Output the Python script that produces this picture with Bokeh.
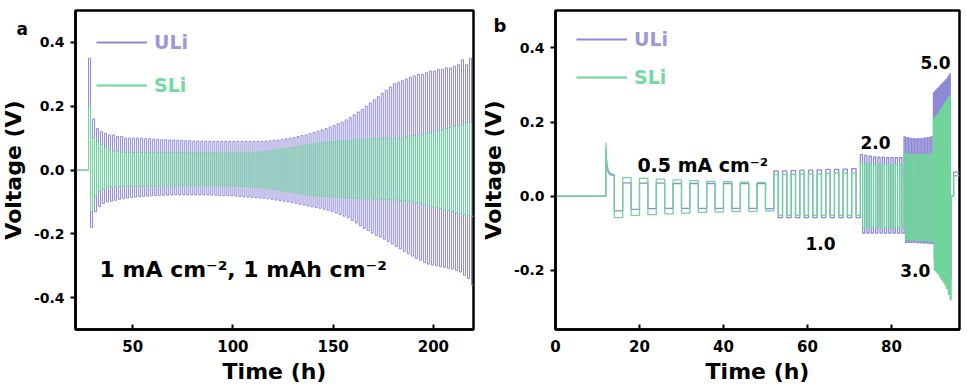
import numpy as np
from bokeh.plotting import figure
from bokeh.layouts import row
from bokeh.models import (Range1d, FixedTicker, PrintfTickFormatter, Label,
                          Legend, LegendItem)
from bokeh.embed import file_html
from bokeh.resources import INLINE

PURPLE = "#8E89D6"
GREEN = "#6FD59B"
PURPLE_TXT = "#9C98DA"
GREEN_TXT = "#76D9A0"
FONT = "DejaVu Sans"

# ---------------- Panel a data: 1 mA cm-2, 1 mAh cm-2 (2 h per cycle) ----------------
a_rest_t = [21.5, 28.0]
a_rest_v = [0.0, 0.0]
a_cycle_start = 28.0
a_half_h = 1.0
a_uli_hi = [0.35, 0.16, 0.13, 0.12, 0.115, 0.11, 0.11, 0.105,
            0.105, 0.10, 0.10, 0.10, 0.10, 0.10, 0.098, 0.098,
            0.097, 0.096, 0.095, 0.095, 0.094, 0.094, 0.093, 0.093,
            0.092, 0.092, 0.091, 0.091, 0.09, 0.09, 0.09, 0.09,
            0.09, 0.09, 0.09, 0.09, 0.09, 0.09, 0.09, 0.09,
            0.09, 0.09, 0.09, 0.09, 0.091, 0.092, 0.093, 0.094,
            0.096, 0.098, 0.10, 0.102, 0.105, 0.108, 0.11, 0.114,
            0.118, 0.122, 0.126, 0.13, 0.135, 0.14, 0.145, 0.15,
            0.157, 0.165, 0.173, 0.182, 0.19, 0.20, 0.21, 0.22,
            0.23, 0.24, 0.25, 0.26, 0.27, 0.275, 0.28, 0.285,
            0.29, 0.295, 0.30, 0.30, 0.305, 0.31, 0.31, 0.315,
            0.315, 0.32, 0.32, 0.325, 0.33, 0.345, 0.33, 0.35]
a_uli_lo = [-0.18, -0.13, -0.115, -0.105, -0.10, -0.098, -0.095, -0.092,
            -0.09, -0.088, -0.086, -0.085, -0.084, -0.083, -0.082, -0.081,
            -0.08, -0.08, -0.079, -0.079, -0.078, -0.078, -0.078, -0.078,
            -0.078, -0.078, -0.078, -0.078, -0.078, -0.078, -0.079, -0.079,
            -0.08, -0.08, -0.08, -0.081, -0.082, -0.083, -0.084, -0.085,
            -0.086, -0.087, -0.088, -0.089, -0.09, -0.092, -0.094, -0.096,
            -0.098, -0.10, -0.102, -0.105, -0.108, -0.11, -0.113, -0.116,
            -0.118, -0.12, -0.123, -0.126, -0.13, -0.135, -0.14, -0.145,
            -0.15, -0.158, -0.166, -0.175, -0.183, -0.19, -0.198, -0.205,
            -0.21, -0.217, -0.224, -0.232, -0.24, -0.247, -0.255, -0.262,
            -0.27, -0.277, -0.283, -0.29, -0.295, -0.298, -0.30, -0.303,
            -0.305, -0.308, -0.31, -0.315, -0.32, -0.33, -0.34, -0.36]
a_sli_hi = [0.20, 0.10, 0.09, 0.08, 0.07, 0.065, 0.06, 0.058,
            0.056, 0.055, 0.055, 0.055, 0.055, 0.055, 0.055, 0.055,
            0.055, 0.055, 0.055, 0.055, 0.055, 0.055, 0.055, 0.055,
            0.055, 0.055, 0.055, 0.055, 0.055, 0.055, 0.055, 0.055,
            0.055, 0.055, 0.055, 0.055, 0.055, 0.055, 0.055, 0.055,
            0.055, 0.055, 0.056, 0.057, 0.058, 0.06, 0.062, 0.064,
            0.066, 0.068, 0.07, 0.072, 0.074, 0.076, 0.078, 0.08,
            0.082, 0.084, 0.086, 0.087, 0.088, 0.089, 0.09, 0.091,
            0.092, 0.093, 0.094, 0.095, 0.096, 0.097, 0.098, 0.099,
            0.10, 0.10, 0.10, 0.10, 0.10, 0.10, 0.102, 0.104,
            0.106, 0.108, 0.11, 0.112, 0.115, 0.118, 0.12, 0.123,
            0.126, 0.13, 0.133, 0.136, 0.14, 0.143, 0.147, 0.15]
a_sli_lo = [-0.13, -0.08, -0.065, -0.058, -0.055, -0.053, -0.052, -0.051,
            -0.05, -0.05, -0.05, -0.05, -0.05, -0.05, -0.05, -0.05,
            -0.05, -0.05, -0.05, -0.05, -0.05, -0.05, -0.05, -0.05,
            -0.05, -0.05, -0.05, -0.05, -0.05, -0.05, -0.05, -0.05,
            -0.05, -0.05, -0.05, -0.05, -0.051, -0.051, -0.052, -0.052,
            -0.053, -0.054, -0.055, -0.056, -0.058, -0.06, -0.062, -0.064,
            -0.066, -0.068, -0.07, -0.072, -0.074, -0.076, -0.078, -0.08,
            -0.081, -0.082, -0.083, -0.084, -0.085, -0.086, -0.087, -0.088,
            -0.088, -0.089, -0.089, -0.09, -0.09, -0.091, -0.091, -0.092,
            -0.092, -0.093, -0.093, -0.094, -0.094, -0.095, -0.096, -0.097,
            -0.10, -0.103, -0.106, -0.109, -0.112, -0.115, -0.118, -0.121,
            -0.124, -0.127, -0.13, -0.133, -0.136, -0.139, -0.142, -0.145]

a_xticks = [50, 100, 150, 200]
a_yticks = [-0.4, -0.2, 0.0, 0.2, 0.4]

# ---------------- Panel b data: rate test ----------------
b_rest_t = [0.0, 12.0]
b_rest_v = [0.0, 0.0]
b_spike_t = [12.0, 12.15, 12.5, 13.0, 14.0]
b_spike_sli = [0.144, 0.10, 0.072, 0.062, 0.058]
b_spike_uli = [0.125, 0.09, 0.066, 0.058, 0.055]
b_stage_current = [0.5, 1.0, 2.0, 3.0, 5.0]
b_stage_start = [12.0, 52.0, 72.6, 83.0, 90.0]
b_stage_end = [52.0, 72.6, 83.0, 90.0, 94.2]
b_uli_hi = [[0.055, 0.036, 0.035, 0.035, 0.034, 0.034, 0.034, 0.034, 0.034, 0.034],
            [0.068, 0.068, 0.069, 0.07, 0.07, 0.071, 0.072, 0.072, 0.073, 0.074],
            [0.112, 0.11, 0.108, 0.106, 0.105, 0.105, 0.104, 0.104, 0.104, 0.104],
            [0.16, 0.158, 0.156, 0.155, 0.155, 0.155, 0.156, 0.157, 0.158, 0.16],
            [0.28, 0.285, 0.29, 0.295, 0.30, 0.305, 0.31, 0.315, 0.322, 0.33]]
b_uli_lo = [[-0.04, -0.036, -0.034, -0.033, -0.033, -0.033, -0.033, -0.033, -0.033, -0.034],
            [-0.058, -0.058, -0.058, -0.058, -0.058, -0.058, -0.058, -0.058, -0.058, -0.058],
            [-0.10, -0.10, -0.10, -0.10, -0.10, -0.10, -0.10, -0.10, -0.10, -0.10],
            [-0.125, -0.125, -0.125, -0.125, -0.126, -0.126, -0.127, -0.127, -0.128, -0.128],
            [-0.17, -0.175, -0.18, -0.185, -0.19, -0.195, -0.20, -0.205, -0.21, -0.22]]
b_sli_hi = [[0.058, 0.05, 0.048, 0.046, 0.044, 0.042, 0.04, 0.039, 0.038, 0.037],
            [0.058, 0.058, 0.059, 0.06, 0.06, 0.06, 0.061, 0.062, 0.062, 0.063],
            [0.09, 0.088, 0.087, 0.086, 0.085, 0.085, 0.085, 0.085, 0.085, 0.085],
            [0.115, 0.114, 0.113, 0.112, 0.112, 0.112, 0.112, 0.113, 0.114, 0.115],
            [0.21, 0.215, 0.22, 0.228, 0.235, 0.242, 0.25, 0.258, 0.265, 0.27]]
b_sli_lo = [[-0.058, -0.052, -0.05, -0.048, -0.046, -0.044, -0.043, -0.042, -0.041, -0.04],
            [-0.052, -0.052, -0.052, -0.052, -0.052, -0.052, -0.052, -0.052, -0.052, -0.052],
            [-0.085, -0.085, -0.085, -0.085, -0.085, -0.085, -0.085, -0.085, -0.085, -0.085],
            [-0.118, -0.118, -0.119, -0.119, -0.12, -0.12, -0.12, -0.121, -0.121, -0.122],
            [-0.20, -0.205, -0.21, -0.218, -0.225, -0.232, -0.24, -0.25, -0.265, -0.28]]
b_tail_t = [94.2, 94.8, 94.8, 96.2]
b_tail_uli = [0.0, 0.0, 0.065, 0.065]
b_tail_sli = [0.0, 0.0, 0.055, 0.055]

b_xticks = [0, 20, 40, 60, 80]
b_yticks = [-0.2, 0.0, 0.2, 0.4]


def cycles_a(hi, lo):
    t = list(a_rest_t)
    v = list(a_rest_v)
    for i, (h, l) in enumerate(zip(hi, lo)):
        ts = a_cycle_start + 2 * a_half_h * i
        t += [ts, ts + a_half_h, ts + a_half_h, ts + 2 * a_half_h]
        v += [h, h, l, l]
    return t, v


def cycles_b(hi, lo, spike, tail):
    t = list(b_rest_t)
    v = list(b_rest_v)
    for s in range(len(b_stage_start)):
        n = len(hi[s])
        half = (b_stage_end[s] - b_stage_start[s]) / (2 * n)
        for i in range(n):
            ts = b_stage_start[s] + 2 * half * i
            if s == 0 and i == 0:
                t += list(b_spike_t)
                v += list(spike)
            else:
                t += [ts, ts + half]
                v += [hi[s][i], hi[s][i]]
            t += [ts + half, ts + 2 * half]
            v += [lo[s][i], lo[s][i]]
    t += list(b_tail_t)
    v += list(tail)
    return t, v


def style(p, xticks, yticks):
    p.outline_line_color = "black"
    p.outline_line_width = 2.5
    p.xgrid.visible = False
    p.ygrid.visible = False
    for ax in (p.xaxis[0], p.yaxis[0]):
        ax.axis_line_width = 2.5
        ax.major_tick_line_width = 2
        ax.minor_tick_line_color = None
        ax.major_label_text_font = FONT
        ax.major_label_text_font_style = "bold"
        ax.major_label_text_color = "black"
        ax.axis_label_text_font = FONT
        ax.axis_label_text_font_style = "bold"
        ax.axis_label_text_font_size = "22px"
        ax.axis_label_text_color = "black"
    p.xaxis.major_label_text_font_size = "15px"
    p.yaxis.major_label_text_font_size = "14px"
    p.xaxis.ticker = FixedTicker(ticks=xticks)
    p.yaxis.ticker = FixedTicker(ticks=yticks)
    p.yaxis.formatter = PrintfTickFormatter(format="%.1f")
    p.xaxis.major_tick_in = 5
    p.xaxis.major_tick_out = 0
    p.yaxis.major_tick_in = 0
    p.yaxis.major_tick_out = 5
    p.xaxis.major_label_standoff = 10
    p.yaxis.major_label_standoff = 6
    p.xaxis.axis_label_standoff = 4
    p.yaxis.axis_label_standoff = 5
    p.xaxis.axis_label = "Time (h)"
    p.yaxis.axis_label = "Voltage (V)"


def add_legends(p, x0, y_uli, y_sli):
    gu = p.line(x=[np.nan], y=[np.nan], line_color=PURPLE, line_width=2)
    gs = p.line(x=[np.nan], y=[np.nan], line_color=GREEN, line_width=2)
    for r, lab, col, yb in ((gu, "ULi", PURPLE_TXT, y_uli), (gs, "SLi", GREEN_TXT, y_sli)):
        lg = Legend(items=[LegendItem(label=lab, renderers=[r])], location=(x0, yb),
                    glyph_width=51, glyph_height=20, label_height=20, label_standoff=7,
                    padding=0, margin=0, spacing=0, border_line_alpha=0,
                    background_fill_alpha=0, label_text_color=col,
                    label_text_font=FONT, label_text_font_style="bold",
                    label_text_font_size="19px")
        p.add_layout(lg)


# ---------------- Panel a ----------------
pa = figure(width=492, height=390, output_backend="svg", toolbar_location=None,
            x_range=Range1d(21.5, 220), y_range=Range1d(-0.5, 0.5),
            min_border_left=76, min_border_right=5, min_border_top=10, min_border_bottom=61)
pa.margin = (0, 0, 0, -14)
style(pa, a_xticks, a_yticks)
tu, vu = cycles_a(a_uli_hi, a_uli_lo)
ts_, vs_ = cycles_a(a_sli_hi, a_sli_lo)
pa.line(tu, vu, line_color=PURPLE, line_width=1.0)
pa.line(ts_, vs_, line_color=GREEN, line_width=1.0)
add_legends(pa, 21, 276, 233)
pa.add_layout(Label(x=33.5, y=-0.3125, text="1 mA cm\u207b\u00b2, 1 mAh cm\u207b\u00b2",
                    text_font=FONT, text_font_style="bold", text_font_size="22px",
                    text_color="black", text_baseline="alphabetic"))
pa.add_layout(Label(x=30, y=301, x_units="screen", y_units="screen", text="a",
                    text_font=FONT, text_font_style="bold", text_font_size="17px",
                    text_color="black", text_baseline="alphabetic"), "left")

# ---------------- Panel b ----------------
pb = figure(width=502, height=390, output_backend="svg", toolbar_location=None,
            x_range=Range1d(0, 96.2), y_range=Range1d(-0.36, 0.501),
            min_border_left=76, min_border_right=7, min_border_top=7, min_border_bottom=58)
pb.margin = (0, 0, 0, -14)
pb.border_fill_alpha = 0
style(pb, b_xticks, b_yticks)
tu, vu = cycles_b(b_uli_hi, b_uli_lo, b_spike_uli, b_tail_uli)
ts_, vs_ = cycles_b(b_sli_hi, b_sli_lo, b_spike_sli, b_tail_sli)
pb.line(tu, vu, line_color=PURPLE, line_width=1.3)
pb.line(ts_, vs_, line_color=GREEN, line_width=1.3)
add_legends(pb, 21, 279, 241)
ann = [("0.5 mA cm\u207b\u00b2", 19.5, 0.085, "19px"),
       ("1.0", 59.5, -0.128, "17px"),
       ("2.0", 72.6, 0.144, "17px"),
       ("3.0", 82.1, -0.20, "17px"),
       ("5.0", 86.9, 0.36, "17px")]
for txt, x, y, fs in ann:
    pb.add_layout(Label(x=x, y=y, text=txt, text_font=FONT, text_font_style="bold",
                        text_font_size=fs, text_color="black", text_baseline="alphabetic"))
pb.add_layout(Label(x=29, y=304, x_units="screen", y_units="screen", text="b",
                    text_font=FONT, text_font_style="bold", text_font_size="18px",
                    text_color="black", text_baseline="alphabetic"), "left")

layout = row(pa, pb)
open("out.html", "w").write(file_html(layout, INLINE))
